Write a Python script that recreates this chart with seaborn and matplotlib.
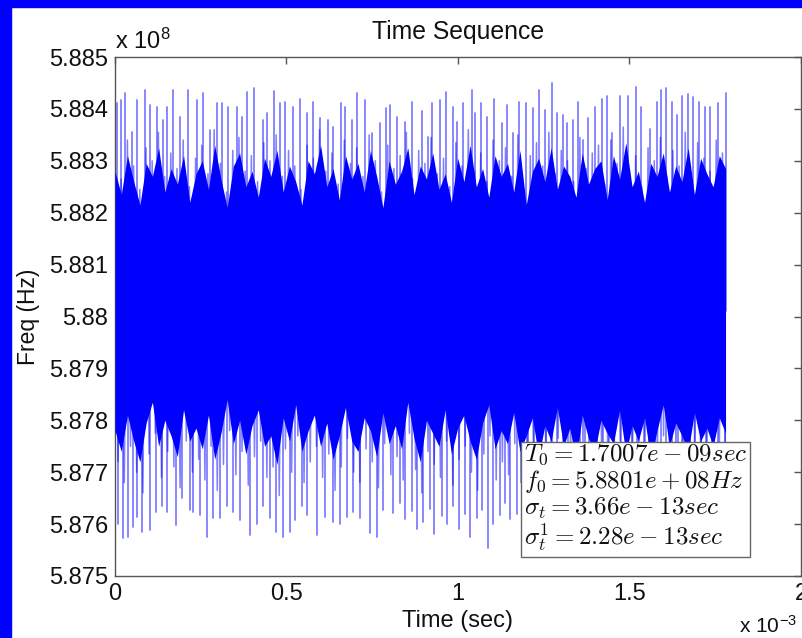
import numpy as np
import pandas as pd
import matplotlib
matplotlib.use("Agg")
import matplotlib.pyplot as plt
from matplotlib.patches import Rectangle
from matplotlib.ticker import FixedLocator, FixedFormatter
import seaborn as sns

# ---------------- data (frequency in units of 1e8 Hz, time in units of 1e-3 s) ----------------
t_end = 1.78   # last sample (x 1e-3 s)
f0 = 5.8801    # mean frequency (x 1e8 Hz)

# tallest upward spikes: time and value
peak_t = [0.005, 0.017, 0.029, 0.049, 0.065, 0.087, 0.102, 0.122, 0.141, 0.151,
          0.168, 0.190, 0.214, 0.238, 0.257, 0.277, 0.297, 0.311, 0.330, 0.355,
          0.369, 0.386, 0.405, 0.432, 0.442, 0.464, 0.481, 0.496, 0.518, 0.539,
          0.559, 0.578, 0.598, 0.622, 0.636, 0.658, 0.671, 0.690, 0.706, 0.729,
          0.748, 0.773, 0.790, 0.802, 0.821, 0.845, 0.865, 0.894, 0.913,
          0.923, 0.948, 0.965, 0.985, 0.996, 1.016, 1.040, 1.050, 1.066,
          1.084, 1.105, 1.127, 1.144, 1.159, 1.179, 1.198, 1.220, 1.237, 1.254,
          1.273, 1.288, 1.305, 1.319, 1.336, 1.349, 1.365, 1.380, 1.399, 1.419,
          1.434, 1.448, 1.472, 1.497, 1.519, 1.533, 1.560, 1.579, 1.591, 1.606,
          1.623, 1.638, 1.652, 1.671, 1.684, 1.704, 1.720, 1.734, 1.759, 1.781]
peaks = [5.88411, 5.88417, 5.88430, 5.88356, 5.88417, 5.88436, 5.88408, 5.88404, 5.88379, 5.88404,
         5.88436, 5.88385, 5.88436, 5.88417, 5.88430, 5.88359, 5.88411, 5.88411, 5.88404, 5.88404,
         5.88385, 5.88433, 5.88440, 5.88379, 5.88392, 5.88435, 5.88411, 5.88414, 5.88404, 5.88420,
         5.88392, 5.88414, 5.88382, 5.88379, 5.88366, 5.88411, 5.88404, 5.88379, 5.88430, 5.88417,
         5.88353, 5.88372, 5.88401, 5.88408, 5.88385, 5.88375, 5.88414, 5.88395, 5.88346,
         5.88411, 5.88417, 5.88433, 5.88404, 5.88375, 5.88411, 5.88436, 5.88392, 5.88411,
         5.88385, 5.88419, 5.88372, 5.88408, 5.88353, 5.88414, 5.88411, 5.88401, 5.88436, 5.88398,
         5.88450, 5.88392, 5.88388, 5.88372, 5.88379, 5.88414, 5.88340, 5.88382, 5.88404, 5.88420,
         5.88424, 5.88353, 5.88425, 5.88424, 5.88443, 5.88404, 5.88362, 5.88414, 5.88436, 5.88440,
         5.88414, 5.88388, 5.88424, 5.88429, 5.88422, 5.88414, 5.88404, 5.88404, 5.88411, 5.88430]

# deepest downward spikes: time and value
trough_t = [0.010, 0.024, 0.039, 0.053, 0.063, 0.078, 0.102, 0.120, 0.136, 0.151,
            0.178, 0.194, 0.219, 0.228, 0.248, 0.267, 0.286, 0.306, 0.326, 0.345,
            0.364, 0.394, 0.413, 0.432, 0.452, 0.469, 0.491, 0.510, 0.525, 0.544,
            0.559, 0.588, 0.612, 0.636, 0.656, 0.676, 0.695, 0.714, 0.743, 0.763,
            0.782, 0.811,
            0.830, 0.846, 0.866, 0.880, 0.899, 0.917, 0.931, 0.952, 0.968, 0.985,
            1.003, 1.019, 1.034, 1.055, 1.070, 1.088, 1.102, 1.121, 1.138, 1.153,
            1.172, 1.188, 1.205, 1.222, 1.238, 1.256, 1.270, 1.290, 1.305, 1.322,
            1.339, 1.356, 1.371, 1.390, 1.405, 1.423, 1.440, 1.456, 1.474, 1.490,
            1.508, 1.523, 1.541, 1.558, 1.573, 1.592, 1.607, 1.625, 1.642, 1.657,
            1.675, 1.690, 1.708, 1.724, 1.741, 1.758, 1.778]
troughs = [5.87601, 5.87573, 5.87576, 5.87595, 5.87614, 5.87585, 5.87588, 5.87624, 5.87634, 5.87624,
           5.87598, 5.87650, 5.87627, 5.87624, 5.87617, 5.87576, 5.87611, 5.87611, 5.87634, 5.87624,
           5.87608, 5.87579, 5.87601, 5.87634, 5.87611, 5.87585, 5.87576, 5.87585, 5.87608, 5.87634,
           5.87617, 5.87579, 5.87614, 5.87604, 5.87601, 5.87614, 5.87624, 5.87611, 5.87582, 5.87576,
           5.87627, 5.87621,
           5.87640, 5.87610, 5.87625, 5.87590, 5.87605, 5.87630, 5.87580, 5.87615, 5.87600, 5.87635,
           5.87590, 5.87620, 5.87575, 5.87612, 5.87628, 5.87554, 5.87600, 5.87618, 5.87640, 5.87610,
           5.87620, 5.87595, 5.87630, 5.87605, 5.87585, 5.87615, 5.87640, 5.87600, 5.87620, 5.87590,
           5.87610, 5.87630, 5.87600, 5.87580, 5.87615, 5.87625, 5.87605, 5.87590, 5.87620, 5.87635,
           5.87600, 5.87615, 5.87585, 5.87610, 5.87630, 5.87605, 5.87620, 5.87595, 5.87615, 5.87600,
           5.87625, 5.87610, 5.87590, 5.87620, 5.87605, 5.87630, 5.87615]

# medium excursions (light spikes)
mid_hi = [5.88310, 5.88265, 5.88340, 5.88290, 5.88245, 5.88325, 5.88300, 5.88355, 5.88270, 5.88315,
          5.88285, 5.88340, 5.88250, 5.88305, 5.88330, 5.88275, 5.88360, 5.88295, 5.88240, 5.88320,
          5.88345, 5.88280, 5.88310, 5.88260, 5.88335, 5.88300, 5.88350, 5.88270, 5.88320, 5.88290,
          5.88245, 5.88330, 5.88305, 5.88360, 5.88280, 5.88315, 5.88255, 5.88340, 5.88295, 5.88325,
          5.88270, 5.88350, 5.88300, 5.88240, 5.88330, 5.88285, 5.88310, 5.88355, 5.88265, 5.88320,
          5.88295, 5.88345, 5.88275, 5.88305, 5.88250, 5.88335, 5.88290, 5.88360, 5.88280, 5.88315,
          5.88260, 5.88340, 5.88300, 5.88325, 5.88270, 5.88350, 5.88245, 5.88310, 5.88335, 5.88290,
          5.88355, 5.88275, 5.88320, 5.88300, 5.88260, 5.88345, 5.88285, 5.88315, 5.88330, 5.88255,
          5.88340, 5.88295, 5.88365, 5.88280, 5.88310, 5.88250, 5.88325, 5.88300, 5.88345, 5.88270,
          5.88320, 5.88290, 5.88355, 5.88265, 5.88335, 5.88305, 5.88280, 5.88340, 5.88315]
mid_lo = [5.87720, 5.87680, 5.87750, 5.87700, 5.87660, 5.87735, 5.87775, 5.87690, 5.87740, 5.87710,
          5.87670, 5.87760, 5.87700, 5.87725, 5.87685, 5.87750, 5.87665, 5.87715, 5.87780, 5.87695,
          5.87740, 5.87675, 5.87730, 5.87760, 5.87690, 5.87710, 5.87655, 5.87745, 5.87700, 5.87770,
          5.87680, 5.87720, 5.87750, 5.87690, 5.87735, 5.87665, 5.87710, 5.87765, 5.87700, 5.87680,
          5.87745, 5.87720, 5.87670, 5.87755, 5.87695, 5.87730, 5.87685, 5.87775, 5.87705, 5.87660,
          5.87740, 5.87715, 5.87690, 5.87760, 5.87675, 5.87725, 5.87750, 5.87700, 5.87665, 5.87735,
          5.87770, 5.87685, 5.87720, 5.87695, 5.87755, 5.87680, 5.87710, 5.87745, 5.87670, 5.87730,
          5.87700, 5.87765, 5.87690, 5.87725, 5.87660, 5.87750, 5.87705, 5.87680, 5.87740, 5.87715,
          5.87695, 5.87760, 5.87675, 5.87730, 5.87700, 5.87745, 5.87665, 5.87720, 5.87770, 5.87690,
          5.87735, 5.87710, 5.87680, 5.87755, 5.87700, 5.87725, 5.87690, 5.87745, 5.87715]

# upper / lower edges of the dense (solid) band
core_hi = [5.88280, 5.88235, 5.88310, 5.88260, 5.88215, 5.88295, 5.88270, 5.88325, 5.88240, 5.88285,
           5.88255, 5.88310, 5.88220, 5.88275, 5.88300, 5.88245, 5.88330, 5.88265, 5.88210, 5.88290,
           5.88315, 5.88250, 5.88280, 5.88230, 5.88305, 5.88270, 5.88320, 5.88240, 5.88290, 5.88260,
           5.88215, 5.88300, 5.88275, 5.88330, 5.88250, 5.88285, 5.88225, 5.88310, 5.88265, 5.88295,
           5.88240, 5.88320, 5.88270, 5.88210, 5.88300, 5.88255, 5.88280, 5.88325, 5.88235, 5.88290,
           5.88265, 5.88315, 5.88245, 5.88275, 5.88220, 5.88305, 5.88260, 5.88330, 5.88250, 5.88285,
           5.88230, 5.88310, 5.88270, 5.88295, 5.88240, 5.88320, 5.88215, 5.88280, 5.88305, 5.88260,
           5.88325, 5.88245, 5.88290, 5.88270, 5.88230, 5.88315, 5.88255, 5.88285, 5.88300, 5.88225,
           5.88310, 5.88265, 5.88335, 5.88250, 5.88280, 5.88220, 5.88295, 5.88270, 5.88315, 5.88240,
           5.88290, 5.88260, 5.88325, 5.88235, 5.88305, 5.88275, 5.88250, 5.88310, 5.88285]
core_lo = [5.87780, 5.87740, 5.87810, 5.87760, 5.87720, 5.87795, 5.87835, 5.87750, 5.87800, 5.87770,
           5.87730, 5.87820, 5.87760, 5.87785, 5.87745, 5.87810, 5.87725, 5.87775, 5.87840, 5.87755,
           5.87800, 5.87735, 5.87790, 5.87820, 5.87750, 5.87770, 5.87715, 5.87805, 5.87760, 5.87830,
           5.87740, 5.87780, 5.87810, 5.87750, 5.87795, 5.87725, 5.87770, 5.87825, 5.87760, 5.87740,
           5.87805, 5.87780, 5.87730, 5.87815, 5.87755, 5.87790, 5.87745, 5.87835, 5.87765, 5.87720,
           5.87800, 5.87775, 5.87750, 5.87820, 5.87735, 5.87785, 5.87810, 5.87760, 5.87725, 5.87795,
           5.87830, 5.87745, 5.87780, 5.87755, 5.87815, 5.87740, 5.87770, 5.87805, 5.87730, 5.87790,
           5.87760, 5.87825, 5.87750, 5.87785, 5.87720, 5.87810, 5.87765, 5.87740, 5.87800, 5.87775,
           5.87755, 5.87820, 5.87735, 5.87790, 5.87760, 5.87805, 5.87725, 5.87780, 5.87830, 5.87750,
           5.87795, 5.87770, 5.87740, 5.87815, 5.87760, 5.87785, 5.87750, 5.87805, 5.87775]

ytick_vals = [5.875, 5.876, 5.877, 5.878, 5.879, 5.880, 5.881, 5.882, 5.883, 5.884, 5.885]
ytick_labels = ["5.875", "5.876", "5.877", "5.878", "5.879", "5.88", "5.881", "5.882", "5.883", "5.884", "5.885"]
xtick_vals = [0, 0.5, 1, 1.5, 2]
xtick_labels = ["0", "0.5", "1", "1.5", "2"]

info_lines = [r"$T_0 = 1.7007e-09sec$",
              r"$f_0 = 5.8801e+08Hz$",
              r"$\sigma_t = 3.66e-13sec$",
              r"$\sigma_t^1 = 2.28e-13sec$"]

# ---------------- build tables ----------------
rows = []
k = 0
for tt, v in list(zip(peak_t, peaks)) + list(zip(trough_t, troughs)):
    rows.append((tt, f0, k))
    rows.append((tt, v, k))
    k += 1
df_spk = pd.DataFrame(rows, columns=["t", "f", "id"])

mid = []
for h, l in zip(mid_hi, mid_lo):
    mid += [h, l]
df_mid = pd.DataFrame({"t": np.linspace(0, t_end, len(mid)), "f": mid})

df_core = pd.DataFrame({"t": np.linspace(0, t_end, len(core_hi)), "hi": core_hi, "lo": core_lo})

# ---------------- style ----------------
sns.set_theme(style="white")
plt.rcParams["font.family"] = ["Liberation Sans", "DejaVu Sans"]
plt.rcParams["mathtext.fontset"] = "cm"

fig = plt.figure(figsize=(8.03, 6.38), dpi=100)
fig.patch.set_facecolor("white")
fig.add_artist(Rectangle((0, 0), 11 / 803, 1, transform=fig.transFigure, color="#0000ff", zorder=10))
fig.add_artist(Rectangle((0, 1 - 7 / 638), 1, 7 / 638, transform=fig.transFigure, color="#0000ff", zorder=10))

ax = fig.add_axes([115 / 803, 1 - 576 / 638, 686 / 803, 519 / 638])
ax.set_facecolor("white")

sns.lineplot(data=df_spk, x="t", y="f", units="id", ax=ax, estimator=None, sort=False,
             color="#0000ff", alpha=0.5, lw=1.3)
sns.lineplot(data=df_mid, x="t", y="f", ax=ax, estimator=None, sort=False,
             color="#0000ff", alpha=0.5, lw=1.1)
ax.fill_between(df_core["t"], df_core["lo"], df_core["hi"], color="#0000ff", lw=0, zorder=3)

ax.set_xlim(0, 2)
ax.set_ylim(5.875, 5.885)
ax.xaxis.set_major_locator(FixedLocator(xtick_vals))
ax.xaxis.set_major_formatter(FixedFormatter(xtick_labels))
ax.yaxis.set_major_locator(FixedLocator(ytick_vals))
ax.yaxis.set_major_formatter(FixedFormatter(ytick_labels))

for s in ax.spines.values():
    s.set_color("#555555")
    s.set_linewidth(1.0)
ax.tick_params(direction="in", top=True, right=True, length=5, width=1, color="#555555",
               labelsize=17, labelcolor="#111111", pad=5)

ax.set_xlabel("Time (sec)", fontsize=17, color="#111111", labelpad=4)
ax.set_ylabel("Freq (Hz)", fontsize=16.5, color="#111111", labelpad=6)
ax.set_title("Time Sequence", fontsize=17.8, color="#111111", pad=13)

ax.text(0.0, 1.006, r"x 10$^{\mathregular{8}}$", transform=ax.transAxes, fontsize=17, color="#111111",
        ha="left", va="bottom")
fig.text(0.993, 0.0, r"x 10$^{\mathregular{-3}}$", fontsize=15, color="#111111", ha="right", va="bottom")

ax.text(0.596, 0.042, "\n".join(info_lines), transform=ax.transAxes, fontsize=18,
        ha="left", va="bottom", color="#111111", linespacing=1.05, zorder=5,
        bbox=dict(boxstyle="square,pad=0.1", fc="white", ec="#666666", lw=1))

fig.savefig("out.png", dpi=100, facecolor=fig.get_facecolor())
